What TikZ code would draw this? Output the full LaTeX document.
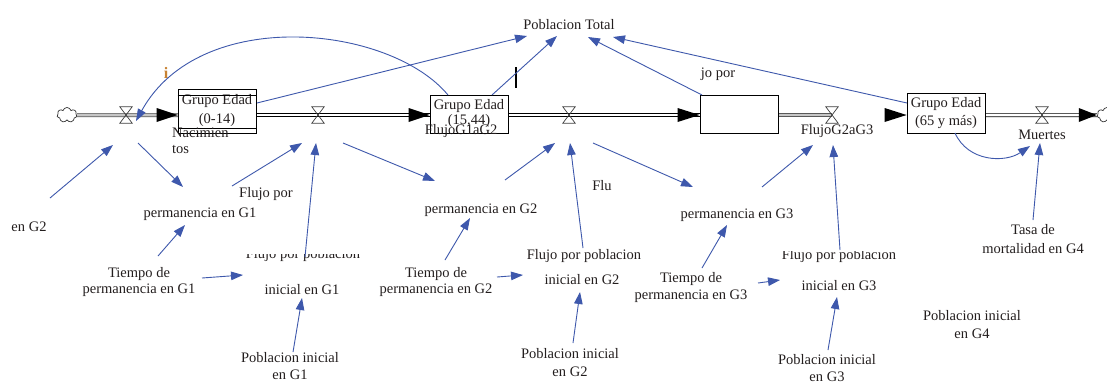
\documentclass[tikz,border=0pt]{standalone}
\usepackage{fontspec}
\setmainfont{Liberation Serif}
\newfontfamily\diagfont{Liberation Serif}
\usetikzlibrary{arrows.meta,shapes.symbols}
\definecolor{linkblue}{RGB}{62,88,172}
\definecolor{ink}{RGB}{35,30,30}
\definecolor{iorange}{RGB}{200,130,50}
\tikzset{
  lbl/.style={font=\diagfont\fontsize{14.5}{17}\selectfont, text=ink, inner sep=0pt, align=center, anchor=base},
  link/.style={draw=linkblue, line width=0.9pt, -{Triangle[length=12pt,width=8.5pt]}},
  stockbox/.style={draw=black, line width=0.8pt, fill=white, minimum width=78pt, inner sep=0pt, align=center, text=ink},
  pipe/.style={draw=black, line width=0.7pt, double=white, double distance=2.6pt},
  graypipe/.style={draw=gray!70!black, line width=0.7pt, double=gray!45, double distance=2.6pt},
  valve/.style={minimum width=12pt, minimum height=16pt, inner sep=0pt},
  valveline/.style={draw=black!75, line width=0.7pt},
  cloudsrc/.style={cloud, cloud puffs=7, draw=black!80, line width=0.7pt, fill=white,
    minimum width=20pt, minimum height=15pt, inner sep=0pt, aspect=1.3},
  flowtip/.style={fill=black}
}
\begin{document}
\begin{tikzpicture}[x=1pt,y=-1pt]
\clip (0,0) rectangle (1107,384);
\fill[white] (0,0) rectangle (1107,384);

% clouds and valves along the main chain
\node[cloudsrc] (cloudL) at (67,115) {};
\node[cloudsrc] (cloudR) at (1107,115) {};
\node[valve] (v1) at (126,115) {};
\node[valve] (v2) at (318,115) {};
\node[valve] (v3) at (569,115) {};
\node[valve] (v4) at (832,115) {};
\node[valve] (v5) at (1042,115) {};

% pipes
\draw[graypipe] (cloudL.east) -- (178,115);
\draw[pipe] (256,115) -- (430,115);
\draw[pipe] (508,115) -- (700,115);
\draw[graypipe] (778,115) -- (v4.center);
\draw[pipe] (985,115) -- (cloudR.west);

% stocks
\node[stockbox, minimum height=44pt, font=\diagfont\fontsize{14.5}{19}\selectfont] (s1) at (217,111) {Grupo Edad\\(0-14)};
\draw[line width=0.8pt] (s1.west |- 0,95) -- (s1.east |- 0,95);
\draw[line width=0.8pt] (s1.west |- 0,128) -- (s1.east |- 0,128);
\node[stockbox, minimum height=38pt, font=\diagfont\fontsize{14.5}{15}\selectfont] (s2) at (469,114) {Grupo Edad\\(15,44)};
\node[stockbox, minimum height=38pt] (bx) at (739,114) {};
\node[stockbox, minimum height=40pt, font=\diagfont\fontsize{14.5}{18}\selectfont] (s4) at (946,113) {Grupo Edad\\(65 y más)};

% flow arrowheads
\fill[flowtip] (s1.west |- v1) -- ++(-21,-7) -- ++(0,14) -- cycle;
\fill[flowtip] (s2.west |- v3) -- ++(-21,-7) -- ++(0,14) -- cycle;
\fill[flowtip] (bx.west |- v3) -- ++(-22,-7) -- ++(0,14) -- cycle;
\fill[flowtip] (s4.west |- v5) -- ++(-22,-7) -- ++(0,14) -- cycle;
\fill[flowtip] (cloudR.west) -- ++(-18,-7) -- ++(0,14) -- cycle;

% valve bowties
\foreach \v in {v1,v2,v3,v4,v5}
  \draw[valveline] (\v.north west) -- (\v.north east) -- (\v.south west) -- (\v.south east) -- cycle;

% labels (multi-line labels sit on the baseline of their last line)
\node[lbl] (ptot) at (569,29) {Poblacion Total};
\node[lbl, font=\diagfont\fontsize{16}{17}\selectfont\bfseries, text=iorange] (imark) at (166,78) {i};
\node[lbl, font=\diagfont\fontsize{14.5}{16}\selectfont, align=left, anchor=base west] (nac) at (172,153) {Nacimien\\tos};
\node[lbl] (fg12) at (461,134) {FlujoG1aG2};
\node[lbl] (jopor) at (718,77) {jo por};
\node[lbl] (fg23) at (837,134) {FlujoG2aG3};
\node[lbl] (muertes) at (1042,139) {Muertes};
\node[lbl] (enG2) at (29,231) {en G2};
\node[lbl] (fpor1) at (266,197) {Flujo por};
\node[lbl] (perm1) at (200,217) {permanencia en G1};
\node[lbl, font=\diagfont\fontsize{14.5}{16}\selectfont] (tiem1) at (139,293) {Tiempo de\\permanencia en G1};
\begin{scope}
  \clip (235,254.5) rectangle (375,264);
  \node[lbl] (fpp1) at (303,258) {Flujo por poblacion};
\end{scope}
\node[lbl] (ini1) at (302,294) {inicial en G1};
\node[lbl] (pi1) at (290,379) {Poblacion inicial\\en G1};

\node[lbl] (perm2) at (481,213) {permanencia en G2};
\node[lbl] (flu) at (602,190) {Flu};
\node[lbl] (fpp2) at (584,259) {Flujo por poblacion};
\node[lbl] (ini2) at (582,284) {inicial en G2};
\node[lbl, font=\diagfont\fontsize{14.5}{16}\selectfont] (tiem2) at (436,293) {Tiempo de\\permanencia en G2};
\node[lbl, font=\diagfont\fontsize{14.5}{18}\selectfont] (pi2) at (570,376) {Poblacion inicial\\en G2};

\node[lbl] (perm3) at (737,218) {permanencia en G3};
\node[lbl, font=\diagfont\fontsize{14.5}{17}\selectfont] (tiem3) at (691,299) {Tiempo de\\permanencia en G3};
\begin{scope}
  \clip (780,251) rectangle (900,266);
  \node[lbl] (fpp3) at (839,259) {Flujo por poblacion};
\end{scope}
\node[lbl] (ini3) at (839,290) {inicial en G3};
\node[lbl] (pi3) at (827,381) {Poblacion inicial\\en G3};
\node[lbl, font=\diagfont\fontsize{14.5}{19}\selectfont] (tasa) at (1033,253) {Tasa de\\mortalidad en G4};
\node[lbl, font=\diagfont\fontsize{14.5}{18}\selectfont] (pi4) at (972,338) {Poblacion inicial\\en G4};

% cursor bar above the second stock
\coordinate (barTop) at (516,67);
\coordinate (barBot) at (516,88);
\draw[line width=2.4pt] (barTop) -- (barBot);

% link end points
\coordinate (s1out) at (257,103);
\coordinate (pt1) at (527,36);
\coordinate (s2out) at (492,95);
\coordinate (pt2) at (557,36);
\coordinate (bxout) at (702,95);
\coordinate (pt3) at (588,37);
\coordinate (s4out) at (907,103);
\coordinate (pt4) at (613,37);
\coordinate (s2arc) at (448,95);
\coordinate (v1in) at (136,121);

\coordinate (enG2out) at (50,198);
\coordinate (v1low) at (113,145);
\coordinate (v1out) at (138,143);
\coordinate (perm1in) at (183,187);
\coordinate (perm1out) at (232,186);
\coordinate (v2left) at (302,143);
\coordinate (fpp1out) at (305,257);
\coordinate (v2low) at (316,143);
\coordinate (v2out) at (343,143);
\coordinate (perm2in) at (435,181);
\coordinate (tiem1up) at (158,256);
\coordinate (perm1low) at (185,225);
\coordinate (tiem1right) at (202,278);
\coordinate (ini1in) at (243,275);
\coordinate (pi1out) at (293,352);
\coordinate (ini1low) at (302,298);

\coordinate (perm2out) at (505,180);
\coordinate (v3left) at (555,143);
\coordinate (fpp2out) at (583,248);
\coordinate (v3low) at (570,143);
\coordinate (v3out) at (593,143);
\coordinate (perm3in) at (693,187);
\coordinate (tiem2up) at (445,260);
\coordinate (perm2low) at (470,218);
\coordinate (tiem2right) at (497,277);
\coordinate (ini2in) at (523,275);
\coordinate (pi2out) at (573,343);
\coordinate (ini2low) at (580,292);

\coordinate (perm3out) at (762,187);
\coordinate (v4left) at (813,145);
\coordinate (fpp3out) at (840,250);
\coordinate (v4low) at (833,145);
\coordinate (tiem3up) at (702,268);
\coordinate (perm3low) at (727,225);
\coordinate (tiem3right) at (758,283);
\coordinate (ini3in) at (780,280);
\coordinate (pi3out) at (828,350);
\coordinate (ini3low) at (837,297);

\coordinate (tasaout) at (1033,220);
\coordinate (v5low) at (1040,143);
\coordinate (s4low) at (955,133);
\coordinate (v5left) at (1030,146);

% links to the total population
\draw[link] (s1out) -- (pt1);
\draw[link] (s2out) -- (pt2);
\draw[link] (bxout) -- (pt3);
\draw[link] (s4out) -- (pt4);
\draw[link] (s2arc) .. controls (390,25) and (200,5) .. (v1in);

% first age group
\draw[link] (enG2out) -- (v1low);
\draw[link] (v1out) -- (perm1in);
\draw[link] (perm1out) -- (v2left);
\draw[link] (fpp1out) -- (v2low);
\draw[link] (v2out) -- (perm2in);
\draw[link] (tiem1up) -- (perm1low);
\draw[link] (tiem1right) -- (ini1in);
\draw[link] (pi1out) -- (ini1low);

% second age group
\draw[link] (perm2out) -- (v3left);
\draw[link] (fpp2out) -- (v3low);
\draw[link] (v3out) -- (perm3in);
\draw[link] (tiem2up) -- (perm2low);
\draw[link] (tiem2right) -- (ini2in);
\draw[link] (pi2out) -- (ini2low);

% third age group
\draw[link] (perm3out) -- (v4left);
\draw[link] (fpp3out) -- (v4low);
\draw[link] (tiem3up) -- (perm3low);
\draw[link] (tiem3right) -- (ini3in);
\draw[link] (pi3out) -- (ini3low);

% oldest group
\draw[link] (tasaout) -- (v5low);
\draw[link] (s4low) .. controls (968,162) and (1005,163) .. (v5left);
\end{tikzpicture}
\end{document}
